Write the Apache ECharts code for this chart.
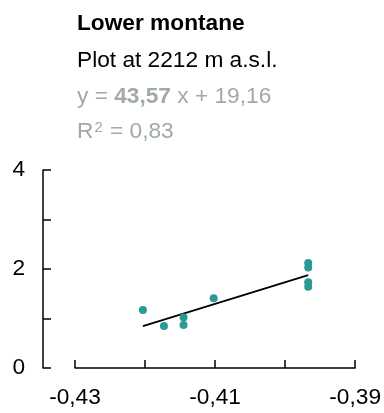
<!DOCTYPE html>
<html>
<head>
<meta charset="utf-8">
<script src="https://cdn.jsdelivr.net/npm/echarts@6/dist/echarts.min.js"></script>
<style>
  html, body { margin: 0; padding: 0; background: #fff; }
  #chart { width: 384px; height: 413px; }
</style>
</head>
<body>
<div id="chart"></div>
<script>
// Plot measurements (x, y)
var pointX = [-0.4203, -0.4173, -0.4145, -0.4145, -0.4102, -0.3967, -0.3967, -0.3967, -0.3967];
var pointY = [1.17, 0.85, 1.02, 0.87, 1.41, 2.12, 2.03, 1.73, 1.64];

// Linear fit shown in the header
var slope = 43.57;
var intercept = 19.16;
var rSquared = 0.83;

// Axis tick labels
var xTickLabels = [-0.43, -0.41, -0.39];
var yTickLabels = [0, 2, 4];

var titleText = 'Lower montane';
var subtitleText = 'Plot at 2212 m a.s.l.';

function fmt(v) { return v.toFixed(2).replace('.', ','); }

var points = pointX.map(function (x, i) { return [x, pointY[i]]; });
var fitStart = Math.min.apply(null, pointX);
var fitEnd = Math.max.apply(null, pointX);
var fitLine = [fitStart, fitEnd].map(function (x) { return [x, slope * x + intercept]; });

var font = 'Liberation Sans, Arial, sans-serif';
var fs = 22.7;
var grey = '#9fa9ae';

var chart = echarts.init(document.getElementById('chart'), null, { renderer: 'canvas' });
chart.setOption({
  animation: false,
  backgroundColor: '#fff',
  title: [
    { text: titleText, left: 77, top: 12, padding: 0,
      textStyle: { fontFamily: font, fontSize: fs, fontWeight: 'bold', color: '#000' } },
    { text: subtitleText, left: 77, top: 49, padding: 0,
      textStyle: { fontFamily: font, fontSize: fs, fontWeight: 'normal', color: '#000' } },
    { text: '{a|y = }{b|' + fmt(slope) + '}{a| x + ' + fmt(intercept) + '}', left: 77, top: 85, padding: 0,
      textStyle: { fontFamily: font, fontSize: fs, fontWeight: 'normal',
        rich: {
          a: { fontFamily: font, fontSize: fs, color: grey, fontWeight: 'normal' },
          b: { fontFamily: font, fontSize: fs, color: grey, fontWeight: 'bold' }
        } } },
    { text: '{a|R}{s|2}{a| = ' + fmt(rSquared) + '}', left: 77, top: 120, padding: 0,
      textStyle: { fontFamily: font, fontSize: fs, fontWeight: 'normal',
        rich: {
          a: { fontFamily: font, fontSize: fs, color: grey, fontWeight: 'normal' },
          s: { fontFamily: font, fontSize: 15, color: grey, fontWeight: 'normal', verticalAlign: 'top', padding: [0, 1, 8, 1] }
        } } }
  ],
  grid: { left: 75, right: 28, top: 170, bottom: 45, containLabel: false },
  xAxis: {
    type: 'value', min: -0.43, max: -0.39, interval: 0.01,
    splitLine: { show: false },
    axisLine: { show: true, onZero: false, lineStyle: { color: '#000', width: 1.5 } },
    axisTick: { show: true, inside: true, length: 8, lineStyle: { color: '#000', width: 1.5 } },
    axisLabel: {
      margin: 18, fontFamily: font, fontSize: fs, color: '#000',
      formatter: function (v) {
        var hit = xTickLabels.filter(function (t) { return Math.abs(t - v) < 1e-6; });
        return hit.length ? fmt(hit[0]) : '';
      }
    }
  },
  yAxis: {
    type: 'value', min: 0, max: 4, interval: 1, offset: 32,
    splitLine: { show: false },
    axisLine: { show: true, lineStyle: { color: '#000', width: 1.5 } },
    axisTick: { show: true, inside: true, length: 8, lineStyle: { color: '#000', width: 1.5 } },
    axisLabel: {
      margin: 18, fontFamily: font, fontSize: fs, color: '#000',
      formatter: function (v) {
        var r = Math.round(v);
        return (Math.abs(v - r) < 1e-6 && yTickLabels.indexOf(r) >= 0) ? String(r) : '';
      }
    }
  },
  series: [
    { type: 'line', data: fitLine, symbol: 'none', silent: true,
      lineStyle: { color: '#000', width: 1.8 }, z: 2 },
    { type: 'scatter', data: points, symbol: 'circle', symbolSize: 8,
      itemStyle: { color: '#2a9a94', opacity: 1 }, z: 3 }
  ]
});
</script>
</body>
</html>
